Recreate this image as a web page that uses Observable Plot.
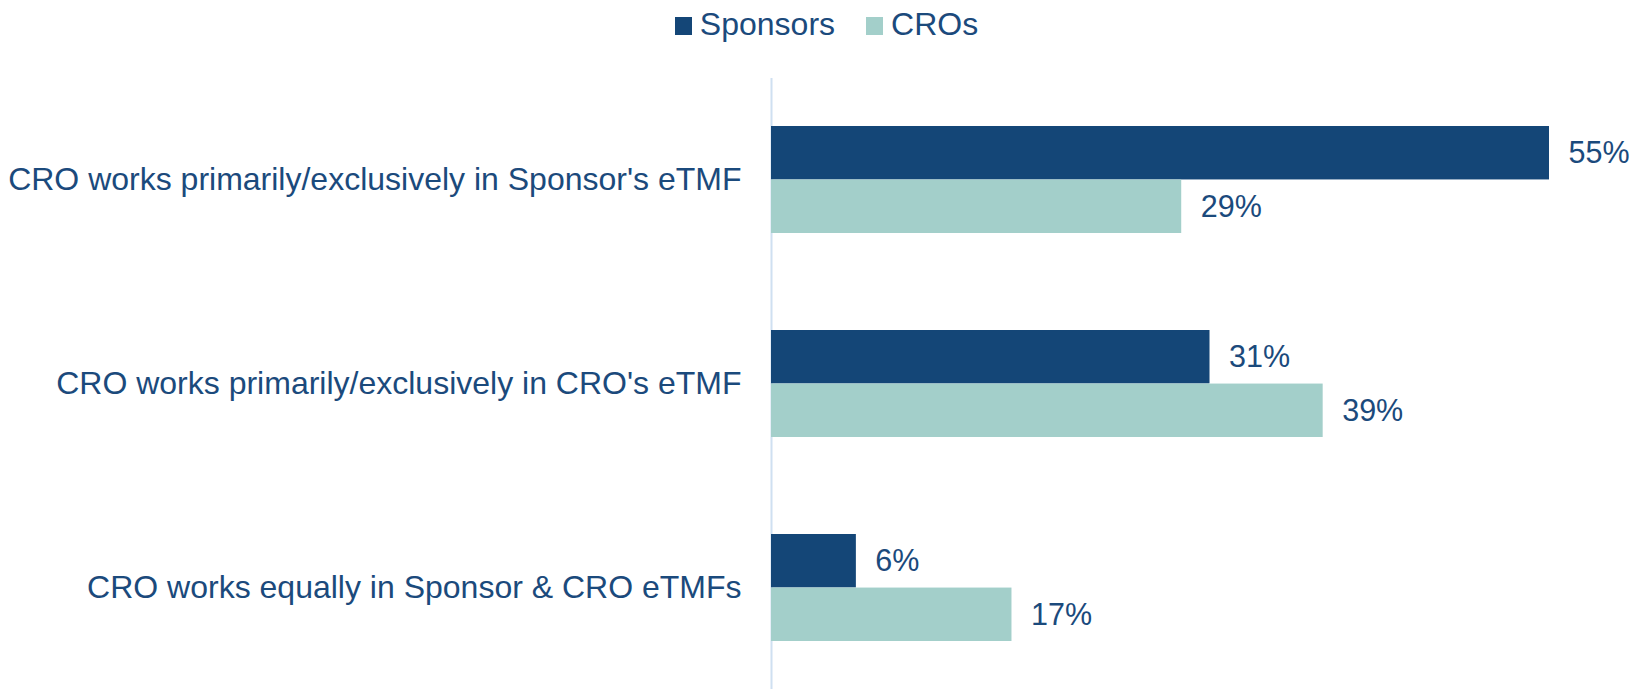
<!DOCTYPE html>
<html>
<head>
<meta charset="utf-8">
<script src="https://cdn.jsdelivr.net/npm/d3@7"></script>
<script src="https://cdn.jsdelivr.net/npm/@observablehq/plot@0.6"></script>
<style>
  html, body { margin: 0; padding: 0; background: #fff; overflow: hidden; }
  body { font-family: "Liberation Sans", Arial, sans-serif; color: #1b4a7c; }
  #legend { height: 48px; display: flex; justify-content: center; align-items: center; padding-left: 20px; box-sizing: border-box; }
  .item { display: flex; align-items: center; font-size: 32px; line-height: 1; }
  .item + .item { margin-left: 31px; }
  .sw { width: 17px; height: 18px; margin-right: 8px; margin-top: 4px; }
</style>
</head>
<body>
<div id="legend"></div>
<div id="chart"></div>
<script>
const categories = [
  "CRO works primarily/exclusively in Sponsor's eTMF",
  "CRO works primarily/exclusively in CRO's eTMF",
  "CRO works equally in Sponsor & CRO eTMFs"
];
const series = ["Sponsors", "CROs"];
const sponsorsValues = [55, 31, 6];
const crosValues = [29, 39, 17];
const colors = ["#144677", "#a3cfca"];
const textColor = "#1b4a7c";

const sponsorRows = categories.map((c, i) => ({category: c, series: "Sponsors", value: sponsorsValues[i]}));
const croRows = categories.map((c, i) => ({category: c, series: "CROs", value: crosValues[i]}));

const W = 1633, H = 641, mTop = 30, mBottom = 0, mLeft = 771, mRight = 84;
const padIn = 0.477, padOut = 0.23;
const band = d3.scaleBand().domain(categories).range([mTop, H - mBottom]).paddingInner(padIn).paddingOuter(padOut);
const half = band.bandwidth() / 2;

// legend
const legend = document.getElementById("legend");
series.forEach((s, i) => {
  const it = document.createElement("div");
  it.className = "item";
  it.innerHTML = `<span class="sw" style="background:${colors[i]}"></span><span>${s}</span>`;
  legend.appendChild(it);
});

const chart = Plot.plot({
  width: W, height: H,
  marginTop: mTop, marginBottom: mBottom, marginLeft: mLeft, marginRight: mRight,
  style: {fontFamily: "'Liberation Sans', Arial, sans-serif", fontSize: "30px", color: textColor, background: "#fff"},
  x: {domain: [0, 55], axis: null},
  y: {domain: categories, paddingInner: padIn, paddingOuter: padOut, axis: null},
  marks: [
    Plot.ruleX([0], {stroke: "#cfe0f1", strokeWidth: 2}),
    Plot.barX(sponsorRows, {x: "value", y: "category", fill: colors[0], insetBottom: half}),
    Plot.barX(croRows, {x: "value", y: "category", fill: colors[1], insetTop: half}),
    Plot.text(sponsorRows, {x: "value", y: "category", text: d => d.value + "%", dx: 19, dy: -half / 2, textAnchor: "start", fill: textColor, fontSize: 30.5}),
    Plot.text(croRows, {x: "value", y: "category", text: d => d.value + "%", dx: 19, dy: half / 2, textAnchor: "start", fill: textColor, fontSize: 30.5}),
    Plot.axisY({tickSize: 0, tickPadding: 30, fontSize: 32, fill: textColor, label: null})
  ]
});
document.getElementById("chart").appendChild(chart);
</script>
</body>
</html>
